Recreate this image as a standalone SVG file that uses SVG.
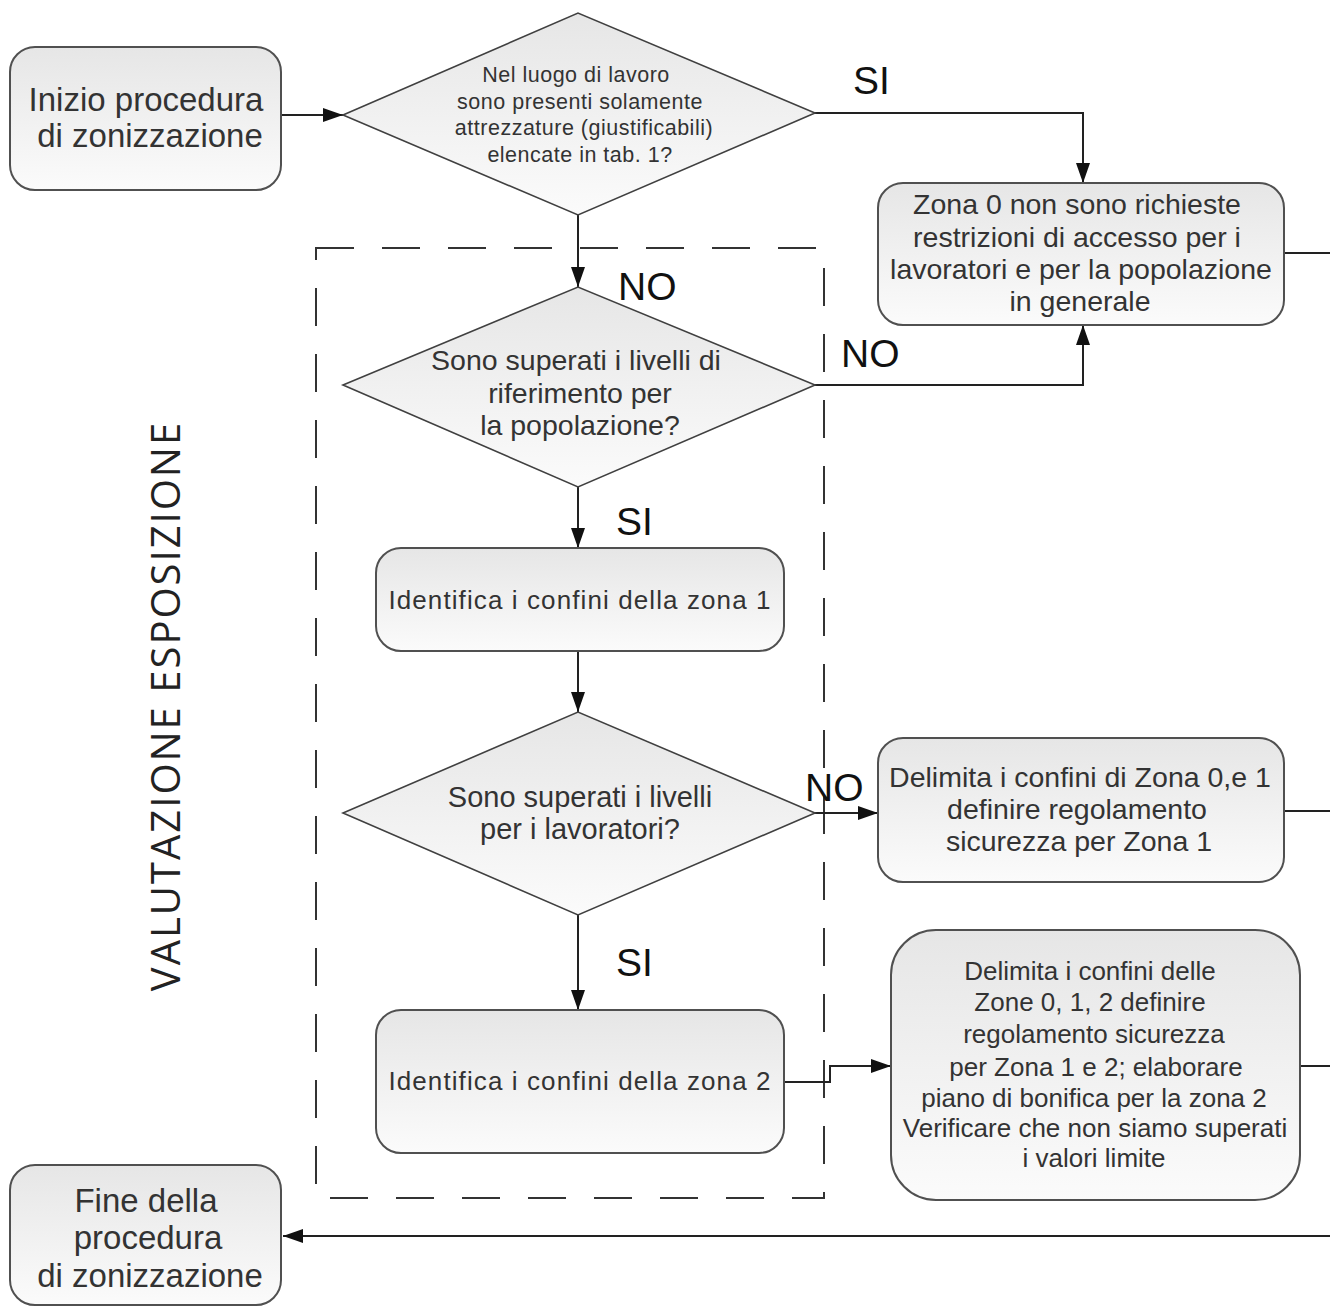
<svg xmlns="http://www.w3.org/2000/svg" width="1330" height="1308" viewBox="0 0 1330 1308">
<style>
.box{fill:url(#g);stroke:#505050;stroke-width:2}
.dia{fill:url(#g);stroke:#404040;stroke-width:1.6}
.t{font-family:"Liberation Sans",Arial,sans-serif;fill:#333;text-anchor:middle}
.lbl{font-family:"Liberation Sans",Arial,sans-serif;fill:#111;font-size:39px}
.c{fill:none;stroke:#222;stroke-width:2}
</style>
<defs>
<linearGradient id="g" x1="0" y1="0" x2="0" y2="1">
<stop offset="0" stop-color="#e6e6e6"/>
<stop offset="1" stop-color="#fbfbfb"/>
</linearGradient>
<marker id="a" viewBox="0 0 20 14" refX="20" refY="7" markerWidth="20" markerHeight="14" markerUnits="userSpaceOnUse" orient="auto">
<path d="M0,0 L20,7 L0,14 Z" fill="#111"/>
</marker>
</defs>
<rect width="1330" height="1308" fill="#fff"/>

<g id="frame">
<rect x="316" y="248" width="508" height="950" fill="none" stroke="#333" stroke-width="2" stroke-dasharray="38 28"/>
<text transform="translate(180,706) rotate(-90)" text-anchor="middle" font-family="'Open Sans',Lato,sans-serif" font-size="40" letter-spacing="2" fill="#222">VALUTAZIONE  ESPOSIZIONE</text>
</g>

<g id="connectors">
<path class="c" d="M281,115 H343" marker-end="url(#a)"/>
<path class="c" d="M815,113 H1083 V183" marker-end="url(#a)"/>
<path class="c" d="M578,215 V287" marker-end="url(#a)"/>
<path class="c" d="M815,385 H1083 V325" marker-end="url(#a)"/>
<path class="c" d="M578,487 V548" marker-end="url(#a)"/>
<path class="c" d="M578,651 V712" marker-end="url(#a)"/>
<path class="c" d="M815,813 H878" marker-end="url(#a)"/>
<path class="c" d="M578,915 V1010" marker-end="url(#a)"/>
<path class="c" d="M784,1082 H830 V1066 H891" marker-end="url(#a)"/>
<path class="c" d="M1284,253 H1330"/>
<path class="c" d="M1284,811 H1330"/>
<path class="c" d="M1300,1066 H1330"/>
<path class="c" d="M1330,1236 H283" marker-end="url(#a)"/>
<text class="lbl" x="853" y="94">SI</text>
<text class="lbl" x="618" y="300">NO</text>
<text class="lbl" x="841" y="367">NO</text>
<text class="lbl" x="616" y="535">SI</text>
<text class="lbl" x="805" y="801">NO</text>
<text class="lbl" x="616" y="976">SI</text>
</g>

<g id="inizio">
<rect class="box" x="10" y="47" width="271" height="143" rx="25"/>
<text class="t" font-size="33"><tspan x="146" y="111">Inizio procedura</tspan><tspan x="150" y="147">di zonizzazione</tspan></text>
</g>

<g id="d1">
<polygon class="dia" points="343,115 578,13 815,113 578,215"/>
<text class="t" font-size="21.5" letter-spacing="0.5"><tspan x="576" y="82">Nel luogo di lavoro</tspan><tspan x="580" y="109">sono presenti solamente</tspan><tspan x="584" y="135">attrezzature (giustificabili)</tspan><tspan x="580" y="162">elencate in tab. 1?</tspan></text>
</g>

<g id="zona0">
<rect class="box" x="878" y="183" width="406" height="142" rx="25"/>
<text class="t" font-size="28.5"><tspan x="1077" y="214">Zona 0 non sono richieste</tspan><tspan x="1077" y="247">restrizioni di accesso per i</tspan><tspan x="1081" y="279">lavoratori e per la popolazione</tspan><tspan x="1080" y="311">in generale</tspan></text>
</g>

<g id="d2">
<polygon class="dia" points="343,385 578,287 815,385 578,487"/>
<text class="t" font-size="28.5"><tspan x="576" y="370">Sono superati i livelli di</tspan><tspan x="580" y="403">riferimento per</tspan><tspan x="580" y="435">la popolazione?</tspan></text>
</g>

<g id="zona1">
<rect class="box" x="376" y="548" width="408" height="103" rx="25"/>
<text class="t" font-size="26" letter-spacing="1.1" x="580" y="609">Identifica i confini della zona 1</text>
</g>

<g id="d3">
<polygon class="dia" points="343,813 578,712 815,813 578,915"/>
<text class="t" font-size="29"><tspan x="580" y="807">Sono superati i livelli</tspan><tspan x="580" y="839">per i lavoratori?</tspan></text>
</g>

<g id="delim01">
<rect class="box" x="878" y="738" width="406" height="144" rx="25"/>
<text class="t" font-size="28.5"><tspan x="1080" y="787">Delimita i confini di Zona 0,e 1</tspan><tspan x="1077" y="819">definire regolamento</tspan><tspan x="1079" y="851">sicurezza per Zona 1</tspan></text>
</g>

<g id="zona2">
<rect class="box" x="376" y="1010" width="408" height="143" rx="25"/>
<text class="t" font-size="26" letter-spacing="1.1" x="580" y="1090">Identifica i confini della zona 2</text>
</g>

<g id="delim012">
<rect class="box" x="891" y="930" width="409" height="270" rx="45"/>
<text class="t" font-size="26"><tspan x="1090" y="980">Delimita i confini delle</tspan><tspan x="1090" y="1011">Zone 0, 1, 2 definire</tspan><tspan x="1094" y="1043">regolamento sicurezza</tspan><tspan x="1096" y="1076">per Zona 1 e 2; elaborare</tspan><tspan x="1094" y="1107">piano di bonifica per la zona 2</tspan><tspan x="1095" y="1137">Verificare che non siamo superati</tspan><tspan x="1094" y="1167">i valori limite</tspan></text>
</g>

<g id="fine">
<rect class="box" x="10" y="1165" width="271" height="140" rx="25"/>
<text class="t" font-size="33"><tspan x="146" y="1212">Fine della</tspan><tspan x="148" y="1249">procedura</tspan><tspan x="150" y="1287">di zonizzazione</tspan></text>
</g>
</svg>
